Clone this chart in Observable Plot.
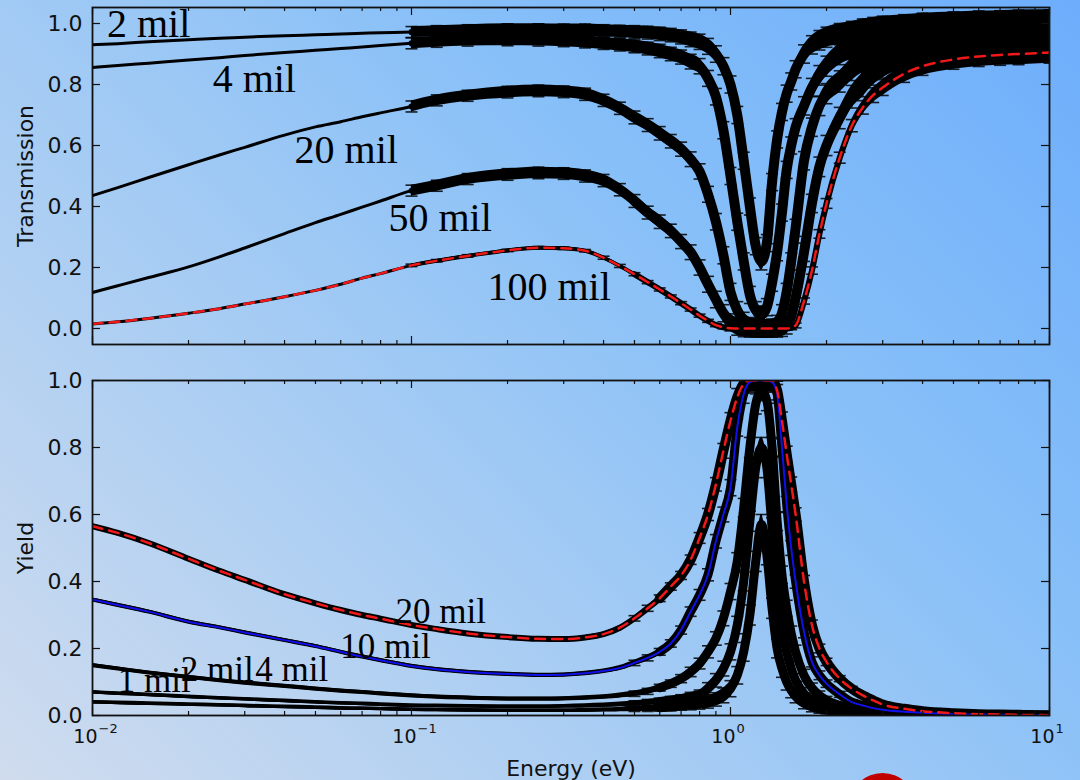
<!DOCTYPE html>
<html><head><meta charset="utf-8">
<script src="https://cdn.jsdelivr.net/npm/d3@7"></script>
<script src="https://cdn.jsdelivr.net/npm/@observablehq/plot@0.6"></script>
<style>
html,body{margin:0;padding:0;}
body{width:1080px;height:780px;overflow:hidden;position:relative;
 background: linear-gradient(45deg, #d0dcee 0%, #a9cdf3 35%, #88c0f8 65%, #6dadfb 100%);
 font-family:"DejaVu Sans",sans-serif;}
#top{position:absolute;left:0;top:0;}
#bot{position:absolute;left:0;top:360px;}
#dot{position:absolute;left:849px;top:773px;width:67px;height:67px;border-radius:50%;background:#c00000;}
</style></head><body>
<div id="top"></div><div id="bot"></div><div id="dot"></div>
<script>
// ---- data (energy grid in eV) ----
const energy = [0.01, 0.012, 0.015, 0.02, 0.025, 0.03, 0.04, 0.05, 0.06, 0.07, 0.08,
 0.1, 0.12, 0.15, 0.2, 0.25, 0.3, 0.35, 0.4, 0.45, 0.5,
 0.55, 0.6, 0.65, 0.7, 0.75, 0.8, 0.85, 0.9, 0.95, 1.0,
 1.05, 1.1, 1.15, 1.2, 1.25, 1.3, 1.35, 1.4, 1.45, 1.5,
 1.55, 1.6, 1.7, 1.8, 1.9, 2.0, 2.2, 2.4, 2.6, 2.8,
 3.0, 3.5, 4, 5, 6, 7, 8, 10];

// Transmission
const trans2mil = [0.93, 0.934, 0.94, 0.947, 0.952, 0.955, 0.96, 0.963, 0.966, 0.968, 0.97,
 0.972, 0.975, 0.978, 0.98, 0.98, 0.979, 0.978, 0.976, 0.974, 0.972,
 0.97, 0.966, 0.962, 0.956, 0.948, 0.94, 0.925, 0.9, 0.86, 0.8,
 0.7, 0.55, 0.4, 0.27, 0.22, 0.28, 0.48, 0.62, 0.71, 0.77,
 0.81, 0.85, 0.9, 0.93, 0.945, 0.955, 0.965, 0.97, 0.975, 0.978,
 0.98, 0.982, 0.984, 0.985, 0.986, 0.986, 0.987, 0.987];
const trans4mil = [0.856, 0.862, 0.87, 0.88, 0.888, 0.895, 0.905, 0.912, 0.918, 0.923, 0.928,
 0.935, 0.94, 0.944, 0.946, 0.945, 0.943, 0.94, 0.935, 0.93, 0.925,
 0.918, 0.91, 0.9, 0.89, 0.875, 0.86, 0.82, 0.76, 0.65, 0.5,
 0.35, 0.22, 0.11, 0.06, 0.045, 0.07, 0.15, 0.25, 0.38, 0.52,
 0.6, 0.66, 0.73, 0.79, 0.83, 0.86, 0.9, 0.92, 0.935, 0.945,
 0.95, 0.96, 0.965, 0.97, 0.972, 0.974, 0.975, 0.976];
const trans20mil = [0.436, 0.462, 0.495, 0.537, 0.569, 0.594, 0.634, 0.661, 0.678, 0.694, 0.707,
 0.728, 0.748, 0.763, 0.775, 0.779, 0.776, 0.768, 0.748, 0.722, 0.692,
 0.667, 0.64, 0.614, 0.588, 0.555, 0.515, 0.44, 0.35, 0.24, 0.12,
 0.06, 0.025, 0.008, 0.002, 0, 0, 0.003, 0.015, 0.05, 0.12,
 0.22, 0.33, 0.55, 0.66, 0.73, 0.77, 0.81, 0.85, 0.88, 0.9,
 0.91, 0.93, 0.94, 0.95, 0.955, 0.958, 0.96, 0.962];
const trans50mil = [0.118, 0.14, 0.167, 0.202, 0.235, 0.264, 0.311, 0.347, 0.374, 0.398, 0.418,
 0.452, 0.468, 0.49, 0.505, 0.51, 0.508, 0.5, 0.485, 0.455, 0.418,
 0.38, 0.35, 0.32, 0.285, 0.25, 0.2, 0.145, 0.095, 0.05, 0.02,
 0.006, 0.001, 0, 0, 0, 0, 0, 0, 0.002, 0.01,
 0.04, 0.1, 0.25, 0.41, 0.53, 0.6, 0.69, 0.76, 0.8, 0.84,
 0.865, 0.9, 0.915, 0.93, 0.935, 0.94, 0.942, 0.945];
const trans100mil = [0.015, 0.022, 0.033, 0.05, 0.065, 0.08, 0.104, 0.125, 0.145, 0.165, 0.18,
 0.207, 0.222, 0.238, 0.256, 0.265, 0.263, 0.255, 0.232, 0.205, 0.178,
 0.152, 0.128, 0.105, 0.083, 0.062, 0.042, 0.025, 0.011, 0.004, 0.001,
 0, 0, 0, 0, 0, 0, 0, 0, 0, 0,
 0.002, 0.01, 0.09, 0.19, 0.31, 0.41, 0.56, 0.665, 0.725, 0.765,
 0.79, 0.835, 0.86, 0.882, 0.892, 0.897, 0.9, 0.905];
// error bars: thin samples (2-50 mil) and the 100 mil sample
const transErr = [0.008, 0.007, 0.006, 0.005, 0.004, 0.004, 0.004, 0.004, 0.004, 0.004, 0.004,
 0.018, 0.018, 0.018, 0.019, 0.019, 0.019, 0.02, 0.02, 0.02, 0.021,
 0.021, 0.022, 0.022, 0.023, 0.024, 0.025, 0.026, 0.027, 0.028, 0.028,
 0.028, 0.028, 0.028, 0.028, 0.028, 0.028, 0.028, 0.028, 0.028, 0.028,
 0.028, 0.028, 0.03, 0.03, 0.032, 0.033, 0.035, 0.037, 0.04, 0.042,
 0.044, 0.047, 0.05, 0.053, 0.055, 0.056, 0.057, 0.058];
const trans100Err = [0.003, 0.003, 0.003, 0.003, 0.003, 0.003, 0.003, 0.003, 0.003, 0.003, 0.003,
 0.004, 0.004, 0.004, 0.004, 0.004, 0.004, 0.004, 0.005, 0.005, 0.005,
 0.005, 0.005, 0.005, 0.005, 0.005, 0.005, 0.005, 0.005, 0.005, 0.005,
 0.005, 0.005, 0.005, 0.005, 0.005, 0.005, 0.005, 0.005, 0.005, 0.005,
 0.006, 0.008, 0.01, 0.012, 0.014, 0.016, 0.018, 0.02, 0.022, 0.024,
 0.026, 0.028, 0.03, 0.032, 0.033, 0.034, 0.035, 0.035];

// Yield
const yield20mil = [0.565, 0.545, 0.515, 0.468, 0.432, 0.405, 0.362, 0.335, 0.315, 0.3, 0.289,
 0.27, 0.258, 0.245, 0.234, 0.229, 0.228, 0.233, 0.243, 0.262, 0.29,
 0.32, 0.35, 0.385, 0.418, 0.465, 0.53, 0.6, 0.69, 0.79, 0.88,
 0.95, 0.99, 1.0, 1.0, 1.0, 1.0, 1.0, 0.97, 0.88, 0.78,
 0.69, 0.6, 0.4, 0.27, 0.2, 0.16, 0.11, 0.08, 0.06, 0.045,
 0.033, 0.02, 0.013, 0.007, 0.004, 0.003, 0.002, 0.001];
const yield10mil = [0.346, 0.33, 0.31, 0.28, 0.263, 0.248, 0.225, 0.207, 0.19, 0.176, 0.165,
 0.148, 0.138, 0.13, 0.124, 0.121, 0.122, 0.126, 0.133, 0.142, 0.157,
 0.172, 0.19, 0.215, 0.255, 0.31, 0.36, 0.42, 0.52, 0.6, 0.68,
 0.86, 0.96, 0.995, 1.0, 1.0, 1.0, 0.995, 0.96, 0.8, 0.63,
 0.5, 0.4, 0.25, 0.16, 0.12, 0.095, 0.063, 0.04, 0.03, 0.022,
 0.017, 0.011, 0.008, 0.004, 0.003, 0.002, 0.001, 0.001];
const yield4mil = [0.15, 0.14, 0.128, 0.115, 0.105, 0.098, 0.088, 0.08, 0.074, 0.07, 0.066,
 0.06, 0.056, 0.053, 0.05, 0.05, 0.051, 0.053, 0.056, 0.06, 0.065,
 0.072, 0.083, 0.095, 0.11, 0.13, 0.155, 0.19, 0.23, 0.29, 0.37,
 0.46, 0.62, 0.8, 0.93, 0.97, 0.94, 0.8, 0.58, 0.42, 0.32,
 0.245, 0.19, 0.12, 0.082, 0.06, 0.046, 0.03, 0.02, 0.015, 0.012,
 0.009, 0.006, 0.004, 0.002, 0.001, 0.001, 0.001, 0];
const yield2mil = [0.07, 0.066, 0.062, 0.056, 0.052, 0.049, 0.044, 0.04, 0.037, 0.035, 0.033,
 0.03, 0.029, 0.028, 0.027, 0.027, 0.028, 0.029, 0.031, 0.033, 0.036,
 0.039, 0.042, 0.046, 0.05, 0.055, 0.06, 0.08, 0.105, 0.14, 0.19,
 0.27, 0.4, 0.58, 0.74, 0.8, 0.74, 0.56, 0.38, 0.26, 0.19,
 0.14, 0.105, 0.065, 0.045, 0.033, 0.026, 0.017, 0.012, 0.009, 0.007,
 0.006, 0.004, 0.003, 0.002, 0.001, 0.001, 0, 0];
const yield1mil = [0.04, 0.038, 0.036, 0.033, 0.031, 0.029, 0.026, 0.024, 0.022, 0.021, 0.02,
 0.018, 0.017, 0.016, 0.015, 0.015, 0.015, 0.016, 0.017, 0.018, 0.02,
 0.021, 0.023, 0.025, 0.028, 0.031, 0.035, 0.04, 0.048, 0.06, 0.08,
 0.12, 0.19, 0.3, 0.46, 0.57, 0.48, 0.32, 0.2, 0.14, 0.1,
 0.075, 0.058, 0.038, 0.026, 0.02, 0.016, 0.011, 0.008, 0.006, 0.005,
 0.004, 0.003, 0.002, 0.001, 0.001, 0, 0, 0];
const yieldErr = [0.005, 0.005, 0.005, 0.005, 0.005, 0.005, 0.005, 0.005, 0.005, 0.005, 0.005,
 0.005, 0.005, 0.005, 0.005, 0.005, 0.005, 0.006, 0.006, 0.007, 0.008,
 0.009, 0.01, 0.011, 0.012, 0.014, 0.016, 0.018, 0.02, 0.022, 0.024,
 0.026, 0.028, 0.03, 0.03, 0.03, 0.03, 0.03, 0.028, 0.026, 0.024,
 0.022, 0.02, 0.018, 0.015, 0.013, 0.011, 0.009, 0.007, 0.006, 0.005,
 0.005, 0.004, 0.004, 0.003, 0.003, 0.003, 0.003, 0.003];

// Annotations
const transLabels = ["2 mil", "4 mil", "20 mil", "50 mil", "100 mil"];
const transLabelE = [0.0111, 0.0238, 0.043, 0.0847, 0.173];
const transLabelT = [0.957, 0.777, 0.544, 0.321, 0.092];
const yieldLabels = ["20 mil", "10 mil", "2 mil", "4 mil", "1 mil"];
const yieldLabelE = [0.0891, 0.0598, 0.0189, 0.0324, 0.012];
const yieldLabelY = [0.275, 0.173, 0.104, 0.104, 0.069];

const xTickValues = [0.01, 0.1, 1, 10];
const xTickExponents = ["\u22122", "\u22121", "0", "1"];
const yTickValues = [0, 0.2, 0.4, 0.6, 0.8, 1.0];

// ---- helpers ----
const rows = (vals, err) => energy.map((E, i) => ({E, v: vals[i], err: err[i]}));
const minorX = [];
for (const d of [0.01, 0.1, 1]) for (let k = 2; k <= 9; k++) minorX.push(+(d * k).toPrecision(3));

const capSymbol = {draw(ctx, size) { const w = Math.sqrt(size / Math.PI); ctx.moveTo(-w, 0); ctx.lineTo(w, 0); }};

function frameTicks(frameH, frameW) {
  const s = {stroke: "#111", strokeWidth: 1.2};
  return [
    Plot.ruleX(xTickValues, {x: d => d, insetTop: frameH - 8, ...s}),
    Plot.ruleX(xTickValues, {x: d => d, insetBottom: frameH - 8, ...s}),
    Plot.ruleX(minorX, {x: d => d, insetTop: frameH - 4, ...s}),
    Plot.ruleX(minorX, {x: d => d, insetBottom: frameH - 4, ...s}),
    Plot.ruleY(yTickValues, {y: d => d, insetRight: frameW - 8, ...s}),
    Plot.ruleY(yTickValues, {y: d => d, insetLeft: frameW - 8, ...s}),
    Plot.frame({stroke: "#111", strokeWidth: 1.8})
  ];
}

function seriesMarks(series, capR) {
  const m = [];
  for (const s of series) {
    const all = s.data;
    const dat = all.filter(d => d.E >= s.dataFrom);
    const steep = all.filter(d => d.E >= s.steepFrom);
    const eb = all.filter(d => d.E >= s.errFrom);
    m.push(Plot.line(all, {x: "E", y: "v", stroke: "black", strokeWidth: s.thin, curve: "monotone-x", clip: true}));
    m.push(Plot.areaY(dat, {x: "E", y1: d => d.v - d.err, y2: d => d.v + d.err, fill: "black", curve: "monotone-x", clip: true}));
    m.push(Plot.line(dat, {x: "E", y: "v", stroke: "black", strokeWidth: s.band, curve: "monotone-x", clip: true}));
    m.push(Plot.line(steep, {x: "E", y: "v", stroke: "black", strokeWidth: s.steep, curve: "monotone-x", clip: true}));
    m.push(Plot.ruleX(eb, {x: "E", y1: d => d.v - d.err, y2: d => d.v + d.err, stroke: "black", strokeWidth: 1.3, strokeOpacity: 0.85, clip: true}));
    m.push(Plot.dot(eb, {x: "E", y: d => d.v + d.err, symbol: capSymbol, r: capR, fill: "none", stroke: "black", strokeWidth: 1.6, strokeOpacity: 0.85, clip: true}));
    m.push(Plot.dot(eb, {x: "E", y: d => d.v - d.err, symbol: capSymbol, r: capR, fill: "none", stroke: "black", strokeWidth: 1.6, strokeOpacity: 0.85, clip: true}));
  }
  return m;
}

const yTickText = (fmt) => Plot.text(yTickValues, {y: d => d, text: d => fmt(d), frameAnchor: "left", textAnchor: "end", dx: -10, fontSize: 22, fill: "#111", fontFamily: "DejaVu Sans"});
const f1 = d3.format(".1f");

// ---- top panel: Transmission ----
const topSeries = [
  {data: rows(trans2mil, transErr), thin: 3, band: 6, steep: 10, dataFrom: 0.1, steepFrom: 0.5, errFrom: 0.1},
  {data: rows(trans4mil, transErr), thin: 3, band: 6, steep: 10, dataFrom: 0.1, steepFrom: 0.5, errFrom: 0.1},
  {data: rows(trans20mil, transErr), thin: 3, band: 6, steep: 10, dataFrom: 0.1, steepFrom: 0.5, errFrom: 0.1},
  {data: rows(trans50mil, transErr), thin: 3, band: 6, steep: 10, dataFrom: 0.1, steepFrom: 0.5, errFrom: 0.1},
  {data: rows(trans100mil, trans100Err), thin: 3, band: 4, steep: 6, dataFrom: 0.1, steepFrom: 0.5, errFrom: 0.1}
];
const topPlot = Plot.plot({
  width: 1080, height: 360, marginLeft: 92, marginRight: 31, marginTop: 7, marginBottom: 16,
  x: {type: "log", domain: [0.01, 10], axis: null},
  y: {domain: [-0.0525, 1.0525], axis: null},
  style: {background: "transparent", overflow: "visible"},
  marks: [
    ...seriesMarks(topSeries, 6),
    Plot.line(rows(trans100mil, trans100Err), {x: "E", y: "v", stroke: "#f01818", strokeWidth: 2.5, strokeDasharray: "10,7", curve: "monotone-x", clip: true}),
    Plot.text(transLabels, {x: (d, i) => transLabelE[i], y: (d, i) => transLabelT[i], text: d => d, textAnchor: "start", lineAnchor: "bottom", fontSize: 40, fontFamily: "Liberation Serif", fill: "black"}),
    ...frameTicks(337, 957),
    yTickText(f1),
    Plot.text(["Transmission"], {frameAnchor: "left", dx: -67, rotate: -90, textAnchor: "middle", lineAnchor: "middle", fontSize: 22, fontFamily: "DejaVu Sans", fill: "#111"})
  ]
});
document.getElementById("top").appendChild(topPlot);

// ---- bottom panel: Yield ----
const botSeries = [
  {data: rows(yield20mil, yieldErr), thin: 3, band: 6, steep: 10, dataFrom: 0.01, steepFrom: 0.6, errFrom: 0.5},
  {data: rows(yield10mil, yieldErr), thin: 3, band: 4, steep: 9, dataFrom: 0.01, steepFrom: 0.6, errFrom: 0.5},
  {data: rows(yield4mil, yieldErr), thin: 3, band: 4, steep: 9, dataFrom: 0.01, steepFrom: 0.6, errFrom: 0.5},
  {data: rows(yield2mil, yieldErr), thin: 3, band: 3, steep: 9, dataFrom: 0.01, steepFrom: 0.6, errFrom: 0.5},
  {data: rows(yield1mil, yieldErr), thin: 3, band: 3, steep: 9, dataFrom: 0.01, steepFrom: 0.6, errFrom: 0.5}
];
const botPlot = Plot.plot({
  width: 1080, height: 420, marginLeft: 92, marginRight: 31, marginTop: 20, marginBottom: 65,
  x: {type: "log", domain: [0.01, 10], axis: null},
  y: {domain: [0, 1], axis: null},
  style: {background: "transparent", overflow: "visible"},
  marks: [
    ...seriesMarks(botSeries, 6),
    Plot.line(rows(yield10mil, yieldErr), {x: "E", y: "v", stroke: "#1010e8", strokeWidth: 2, curve: "monotone-x", clip: true}),
    Plot.line(rows(yield20mil, yieldErr), {x: "E", y: "v", stroke: "#f01818", strokeWidth: 2.5, strokeDasharray: "10,7", curve: "monotone-x", clip: true}),
    Plot.text(yieldLabels, {x: (d, i) => yieldLabelE[i], y: (d, i) => yieldLabelY[i], text: d => d, textAnchor: "start", lineAnchor: "bottom", fontSize: 35, fontFamily: "Liberation Serif", fill: "black"}),
    ...frameTicks(335, 957),
    yTickText(f1),
    Plot.text(xTickValues, {x: d => d, text: () => "10", frameAnchor: "bottom", textAnchor: "end", lineAnchor: "bottom", dx: 5, dy: 27, fontSize: 19, fontFamily: "DejaVu Sans", fill: "#111"}),
    Plot.text(xTickValues, {x: d => d, text: (d, i) => xTickExponents[i], frameAnchor: "bottom", textAnchor: "start", lineAnchor: "bottom", dx: 6, dy: 17, fontSize: 13, fontFamily: "DejaVu Sans", fill: "#111"}),
    Plot.text(["Yield"], {frameAnchor: "left", dx: -67, rotate: -90, textAnchor: "middle", lineAnchor: "middle", fontSize: 22, fontFamily: "DejaVu Sans", fill: "#111"}),
    Plot.text(["Energy (eV)"], {frameAnchor: "bottom", dy: 60, textAnchor: "middle", lineAnchor: "bottom", fontSize: 22, fontFamily: "DejaVu Sans", fill: "#111"})
  ]
});
document.getElementById("bot").appendChild(botPlot);
</script>
</body></html>
